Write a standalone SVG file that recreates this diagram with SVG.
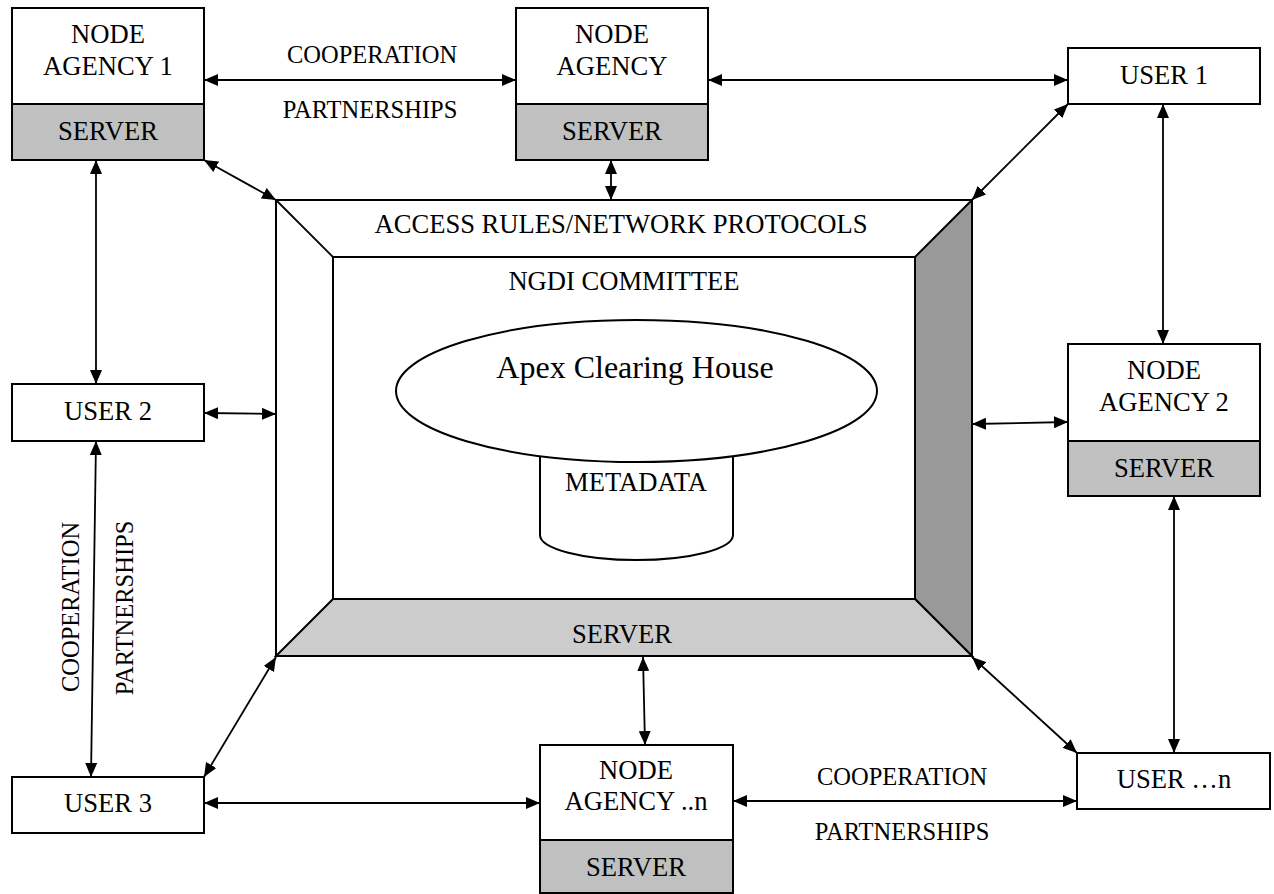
<svg xmlns="http://www.w3.org/2000/svg" width="1274" height="894" viewBox="0 0 1274 894">
<style>
text{font-family:"Liberation Serif","Times New Roman",serif;font-size:26.6px;fill:#000;text-anchor:middle}
.lbl{font-size:24.5px}
.big{font-size:32px}
.box{fill:#fff;stroke:#000;stroke-width:2}
.srv{fill:#c0c0c0;stroke:#000;stroke-width:2}
.ln{stroke:#000;stroke-width:1.8;fill:none}
.conn line{stroke:#000;stroke-width:1.8;marker-start:url(#ah);marker-end:url(#ah)}
</style>
<defs>
<marker id="ah" viewBox="0 0 14 12" refX="14" refY="6" markerWidth="14" markerHeight="12" markerUnits="userSpaceOnUse" orient="auto-start-reverse">
<path d="M0,0 L14,6 L0,12 z" fill="#000"/>
</marker>
</defs>
<rect width="1274" height="894" fill="#fff"/>

<g id="center">
<rect x="276" y="200" width="696" height="456" class="box"/>
<polygon points="972,200 972,656 915,599 915,257" fill="#999" stroke="#000" stroke-width="2"/>
<polygon points="276,656 972,656 915,599 333,599" fill="#ccc" stroke="#000" stroke-width="2"/>
<line x1="276" y1="200" x2="333" y2="257" class="ln"/>
<rect x="333" y="257" width="582" height="342" class="box"/>
<text x="621" y="233">ACCESS RULES/NETWORK PROTOCOLS</text>
<text x="624" y="290">NGDI COMMITTEE</text>
<text x="622" y="643">SERVER</text>
</g>

<g id="metadata">
<path d="M540,450 V535 A96.5,25 0 0 0 733,535 V450" fill="#fff" stroke="#000" stroke-width="2"/>
<text x="636" y="491">METADATA</text>
</g>

<g id="apex">
<ellipse cx="636.5" cy="391" rx="240.5" ry="71" fill="#fff" stroke="#000" stroke-width="2"/>
<text x="635" y="378" class="big">Apex Clearing House</text>
</g>

<g id="node-agency-1">
<rect x="12" y="8" width="192" height="96" class="box"/>
<rect x="12" y="104" width="192" height="56" class="srv"/>
<text x="108" y="43">NODE</text>
<text x="108" y="75">AGENCY 1</text>
<text x="108" y="140">SERVER</text>
</g>

<g id="node-agency">
<rect x="516" y="8" width="192" height="96" class="box"/>
<rect x="516" y="104" width="192" height="56" class="srv"/>
<text x="612" y="43">NODE</text>
<text x="612" y="75">AGENCY</text>
<text x="612" y="140">SERVER</text>
</g>

<g id="user-1">
<rect x="1068" y="48" width="192" height="56" class="box"/>
<text x="1164" y="84">USER 1</text>
</g>

<g id="node-agency-2">
<rect x="1068" y="344" width="192" height="97" class="box"/>
<rect x="1068" y="441" width="192" height="55" class="srv"/>
<text x="1164" y="379">NODE</text>
<text x="1164" y="411">AGENCY 2</text>
<text x="1164" y="477">SERVER</text>
</g>

<g id="user-2">
<rect x="12" y="384" width="192" height="57" class="box"/>
<text x="108" y="420">USER 2</text>
</g>

<g id="user-3">
<rect x="12" y="777" width="192" height="56" class="box"/>
<text x="108" y="812">USER 3</text>
</g>

<g id="node-agency-n">
<rect x="540" y="745" width="193" height="95" class="box"/>
<rect x="540" y="840" width="193" height="53" class="srv"/>
<text x="636" y="779">NODE</text>
<text x="636" y="810">AGENCY ..n</text>
<text x="636" y="876">SERVER</text>
</g>

<g id="user-n">
<rect x="1077" y="753" width="193" height="56" class="box"/>
<text x="1174" y="788">USER …n</text>
</g>

<g id="connectors" class="conn">
<line x1="204" y1="80" x2="516" y2="80"/>
<line x1="708" y1="80" x2="1068" y2="80"/>
<line x1="204" y1="160" x2="276" y2="200"/>
<line x1="611" y1="160" x2="611" y2="200"/>
<line x1="1068" y1="104" x2="972" y2="200"/>
<line x1="1163" y1="104" x2="1163" y2="344"/>
<line x1="96" y1="160" x2="96" y2="384"/>
<line x1="204" y1="413" x2="276" y2="414"/>
<line x1="96" y1="441" x2="91" y2="777"/>
<line x1="204" y1="777" x2="276" y2="657"/>
<line x1="204" y1="803" x2="540" y2="803"/>
<line x1="643" y1="657" x2="645" y2="745"/>
<line x1="733" y1="801" x2="1077" y2="801"/>
<line x1="972" y1="657" x2="1077" y2="753"/>
<line x1="972" y1="424" x2="1068" y2="422"/>
<line x1="1174" y1="496" x2="1174" y2="753"/>
</g>

<g id="labels">
<text x="372" y="63" class="lbl">COOPERATION</text>
<text x="370" y="118" class="lbl">PARTNERSHIPS</text>
<text x="902" y="785" class="lbl">COOPERATION</text>
<text x="902" y="840" class="lbl">PARTNERSHIPS</text>
<text transform="translate(79,607) rotate(-90)" class="lbl">COOPERATION</text>
<text transform="translate(133,608) rotate(-90)" class="lbl">PARTNERSHIPS</text>
</g>
</svg>
